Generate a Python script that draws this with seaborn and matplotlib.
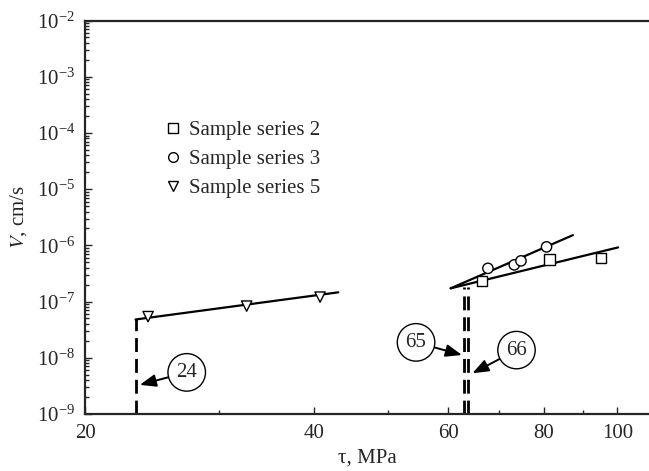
import matplotlib
matplotlib.use("Agg")
import matplotlib.pyplot as plt
import matplotlib.ticker as mticker
from matplotlib.lines import Line2D
import numpy as np
import pandas as pd
import seaborn as sns

# measured points (tau in MPa, V in cm/s)
s2_tau = [66.4, 81.4, 95.2]
s2_v = [2.3e-7, 5.6e-7, 6.0e-7]
s3_tau = [67.6, 73.2, 74.7, 80.7]
s3_v = [3.9e-7, 4.5e-7, 5.3e-7, 9.4e-7]
s5_tau = [24.2, 32.6, 40.7]
s5_v = [5.4e-8, 8.3e-8, 1.2e-7]

# fitted lines (end points)
fit2_tau = [60.4, 100.2]
fit2_v = [1.72e-7, 9.2e-7]
fit3_tau = [60.4, 87.4]
fit3_v = [1.72e-7, 1.52e-6]
fit5_tau = [23.3, 43.0]
fit5_v = [4.8e-8, 1.46e-7]

# threshold stresses (dashed drops) and their labels
thr_tau = [23.3, 62.8, 63.7]
thr_v = [4.8e-8, 1.8e-7, 1.8e-7]
thr_labels = ["24", "65", "66"]

series_names = ["Sample series 2", "Sample series 3", "Sample series 5"]
series_markers = ["s", "o", "v"]

x_ticks = [20, 40, 60, 80, 100]
x_minor = [30, 50, 70, 90]
y_ticks = [1e-9, 1e-8, 1e-7, 1e-6, 1e-5, 1e-4, 1e-3, 1e-2]

pts = pd.DataFrame({
    "tau": s2_tau + s3_tau + s5_tau,
    "V": s2_v + s3_v + s5_v,
    "series": [series_names[0]] * len(s2_tau) + [series_names[1]] * len(s3_tau)
              + [series_names[2]] * len(s5_tau),
})
fits = pd.DataFrame({
    "tau": fit2_tau + fit3_tau + fit5_tau,
    "V": fit2_v + fit3_v + fit5_v,
    "fit": ["2", "2", "3", "3", "5", "5"],
})

sns.set_style("ticks")
plt.rcParams["font.family"] = ["Liberation Serif", "DejaVu Serif"]
plt.rcParams["mathtext.fontset"] = "stix"

fig = plt.figure(figsize=(6.49, 4.71), dpi=100)
ax = fig.add_axes([85 / 649, 1 - 414 / 471, 1 - 85 / 649, (414 - 20.5) / 471])

sns.lineplot(data=fits, x="tau", y="V", units="fit", estimator=None,
             color="black", linewidth=1.6, legend=False, ax=ax, zorder=2)

# dashed threshold lines
for x, top in zip(thr_tau, thr_v):
    ax.plot([x, x], [1e-9, top], color="black", linewidth=2,
            dashes=(5, 2.5), zorder=1)

sns.scatterplot(data=pts, x="tau", y="V", style="series",
                markers=dict(zip(series_names, series_markers)),
                color="white", edgecolor="black", linewidth=1.0, s=55,
                legend=False, ax=ax, zorder=3)

ax.set_xscale("log")
ax.set_yscale("log")
ax.set_xlim(20, 110)
ax.set_ylim(1e-9, 1e-2)

ax.xaxis.set_major_locator(mticker.FixedLocator(x_ticks))
ax.xaxis.set_major_formatter(mticker.FixedFormatter([str(t) for t in x_ticks]))
ax.xaxis.set_minor_locator(mticker.FixedLocator(x_minor))
ax.xaxis.set_minor_formatter(mticker.NullFormatter())
ax.yaxis.set_major_locator(mticker.FixedLocator(y_ticks))
ax.yaxis.set_major_formatter(mticker.LogFormatterSciNotation())
y_minor = [m * t for t in y_ticks[:-1] for m in range(2, 10)]
ax.yaxis.set_minor_locator(mticker.FixedLocator(y_minor))
ax.yaxis.set_minor_formatter(mticker.NullFormatter())

ax.tick_params(which="both", direction="in", labelsize=15, width=1.0)
ax.tick_params(which="major", length=5, pad=7)
ax.tick_params(which="minor", length=3)
ax.tick_params(axis="y", which="both", right=False)
ax.tick_params(axis="x", which="both", top=False)

for side in ["left", "bottom", "top"]:
    ax.spines[side].set_linewidth(1.6)
ax.spines["right"].set_visible(False)

ax.set_xlabel("τ, MPa", fontsize=15, labelpad=4)
ax.set_ylabel("$V$, cm/s", fontsize=15, labelpad=6)

# circled labels with arrows
ann = [((27.2, 5.5e-9), (23.6, 3.3e-9)),
       ((54.4, 1.88e-8), (62.5, 1.12e-8)),
       ((73.7, 1.37e-8), (64.5, 5.3e-9))]
for lab, (txt_xy, tip_xy) in zip(thr_labels, ann):
    ax.annotate(lab, xy=tip_xy, xytext=txt_xy, fontsize=15, ha="center", va="center",
                bbox=dict(boxstyle="circle,pad=0.4", fc="white", ec="black", lw=1.0),
                arrowprops=dict(arrowstyle="-|>,head_length=0.65,head_width=0.25",
                                color="black", lw=1.4, shrinkA=0, shrinkB=0))

handles = [Line2D([], [], linestyle="none", marker=m, markersize=7,
                  markerfacecolor="white", markeredgecolor="black", markeredgewidth=1.0)
           for m in series_markers]
ax.legend(handles, series_names, loc="upper left", bbox_to_anchor=(0.137, 0.745),
          frameon=False, fontsize=15, handlelength=1.0, handletextpad=0.3,
          labelspacing=0.45, borderpad=0, borderaxespad=0)

fig.savefig("out.png", dpi=100)
